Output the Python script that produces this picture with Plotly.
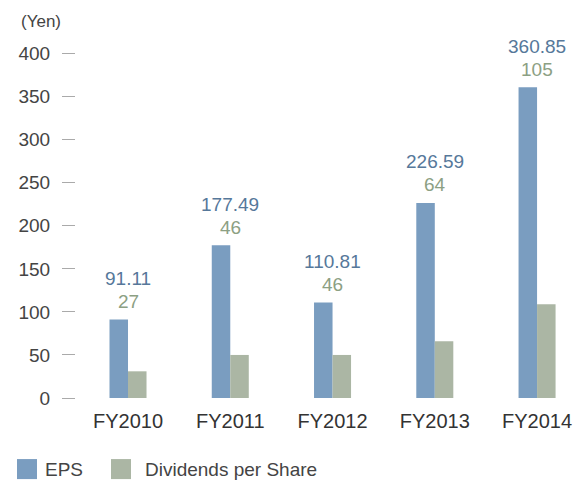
import plotly.graph_objects as go

categories = ["FY2010", "FY2011", "FY2012", "FY2013", "FY2014"]
eps = [91.11, 177.49, 110.81, 226.59, 360.85]
eps_labels = ["91.11", "177.49", "110.81", "226.59", "360.85"]
div_bar = [31, 50, 50, 66, 109]
div_labels = ["27", "46", "46", "64", "105"]
y_ticks = [0, 50, 100, 150, 200, 250, 300, 350, 400]

EPS_C = "#7a9dc0"
DIV_C = "#abb6a4"
EPS_T = "#56789a"
DIV_T = "#8ca083"
FONT = "Liberation Sans, Arial, sans-serif"

# page has an 8px body margin; work in page pixels and shift
OFF = 8
PAGE_W, PAGE_H = 581, 482
W, H = PAGE_W - OFF, PAGE_H - OFF
# plot area in page pixels
PL, PR, PT, PB = 76, 575, 45.4, 398
L = PL - OFF
T = PT - OFF
R = W - (PR - OFF)
B = H - (PB - OFF)
pw = PR - PL
ph = PB - PT

def px_x(p):
    return (p - PL) / pw

def px_y(p):
    return (PB - p) / ph

fig = go.Figure()
fig.add_trace(go.Bar(x=list(range(len(categories))), y=eps, name="EPS",
                     marker=dict(color=EPS_C, line=dict(width=0))))
fig.add_trace(go.Bar(x=list(range(len(categories))), y=div_bar, name="Dividends per Share",
                     marker=dict(color=DIV_C, line=dict(width=0))))

ann = []
for i in range(len(categories)):
    top = max(eps[i], div_bar[i])
    ann.append(dict(x=i, y=top, xref="x", yref="y", text=eps_labels[i], showarrow=False,
                    yanchor="middle", yshift=41, font=dict(family=FONT, size=19, color=EPS_T)))
    ann.append(dict(x=i, y=top, xref="x", yref="y", text=div_labels[i], showarrow=False,
                    yanchor="middle", yshift=18, font=dict(family=FONT, size=19, color=DIV_T)))

ann.append(dict(x=px_x(19), y=px_y(22), xref="paper", yref="paper", text="(Yen)",
                showarrow=False, xanchor="left", yanchor="middle",
                font=dict(family=FONT, size=17, color="#444")))

# custom legend
shapes = []
leg = [("EPS", EPS_C, 17, 43), ("Dividends per Share", DIV_C, 111, 143)]
for name, col, sx, tx in leg:
    shapes.append(dict(type="rect", xref="paper", yref="paper",
                       x0=px_x(sx), x1=px_x(sx + 20), y0=px_y(479), y1=px_y(459),
                       fillcolor=col, line=dict(width=0)))
    ann.append(dict(x=px_x(tx), y=px_y(469), xref="paper", yref="paper", text=name,
                    showarrow=False, xanchor="left", yanchor="middle",
                    font=dict(family=FONT, size=19, color="#444")))

fig.update_layout(
    width=W, height=H,
    margin=dict(l=L, r=R, t=T, b=B, pad=0),
    paper_bgcolor="white", plot_bgcolor="white",
    barmode="group", bargap=0.638, bargroupgap=0,
    showlegend=False,
    annotations=ann, shapes=shapes,
    xaxis=dict(range=[-0.5086, 4.371], tickmode="array",
               tickvals=list(range(len(categories))), ticktext=categories,
               showgrid=False, zeroline=False, showline=False, ticks="",
               ticklabelstandoff=9,
               tickfont=dict(family=FONT, size=20, color="#333")),
    yaxis=dict(range=[0, 410], tickmode="array", tickvals=y_ticks,
               showgrid=False, zeroline=False, showline=False,
               ticks="outside", ticklen=13, tickcolor="#aaa", tickwidth=1,
               ticklabelstandoff=8,
               tickfont=dict(family=FONT, size=19, color="#444")),
)

fig.write_html("out.html")
